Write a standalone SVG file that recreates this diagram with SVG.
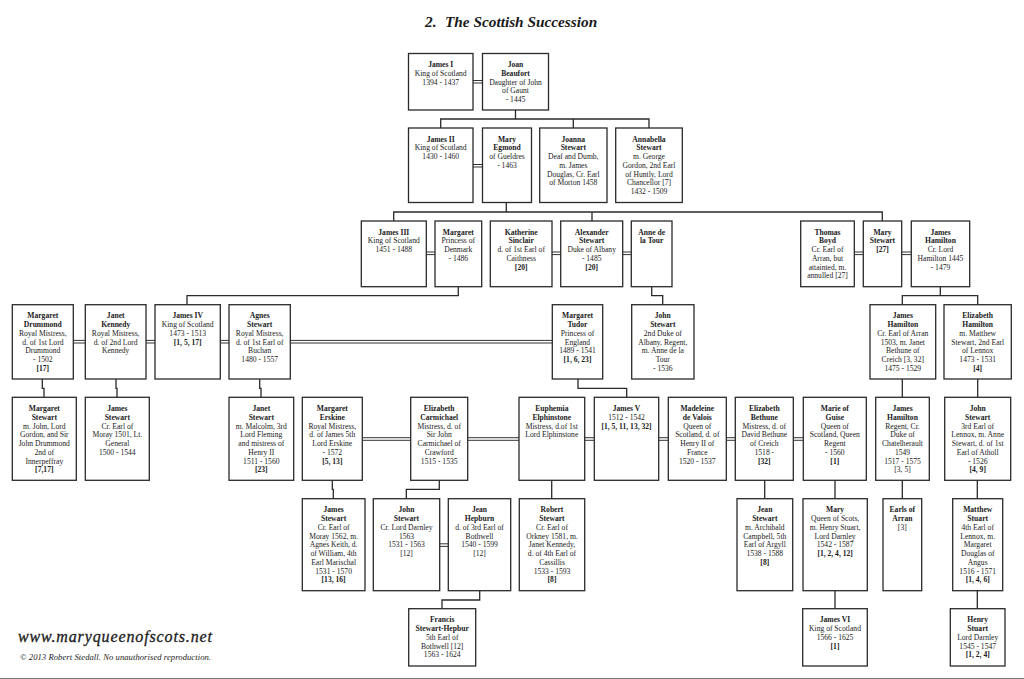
<svg xmlns="http://www.w3.org/2000/svg" width="1024" height="679" viewBox="0 0 1024 679">
<style>
text{font-family:"Liberation Serif","Times New Roman",serif;fill:#1a1a1a}
.n rect{fill:#fff;stroke:#2a2a2a;stroke-width:1.3}
.n text{font-size:7.6px;text-anchor:middle}
.b{font-weight:bold}
#connectors path{fill:none;stroke:#2a2a2a;stroke-width:1.3}
#connectors .d{stroke-width:1;stroke:#333}
</style>
<rect width="1024" height="679" fill="#fff"/>
<text x="425" y="27" font-size="15.3" font-weight="bold" font-style="italic">2.</text>
<text x="445" y="27" font-size="15.3" font-weight="bold" font-style="italic">The Scottish Succession</text>
<g id="connectors">
<path d="M515.5 110V119M440.7 128V119H649V128M573.3 119V128"/>
<path d="M506.3 202.5V212M393.7 221V212H882.3V221M592 212V221"/>
<path d="M458.3 286.7V295.7H187V304.7"/>
<path d="M651.7 286.7V295.7H662.7V304.7"/>
<path d="M940.3 286.7V295.7M902.3 304.7V295.7H977.7V304.7"/>
<path d="M902.3 379V397.3M977.7 379V397.3"/>
<path d="M42.3 379V388.3H44V397.3M116 379V388.3H117V397.3M259.7 379V388.3H261V397.3"/>
<path d="M578 379V388.3H626.7V397.3"/>
<path d="M332.3 480.3V489.3H333.3V498.7M439.3 480.3V489.3H406.3V498.7M551.7 480.3V498.7"/>
<path d="M764.7 480.3V498.7M835 480.3V498.7M902.3 480.3V498.7M977.3 480.3V498.7"/>
<path d="M479.7 590.7V600H442V608.7M835 590.7V608.7M977.3 590.7V608.7"/>
<path class="d" d="M473 80.5H482.5M473 83H482.5M473 164.5H482.5M473 167H482.5"/>
<path class="d" d="M426.3 252H435M426.3 254.6H435M552 252H560.7M552 254.6H560.7M622.7 252H631.3M622.7 254.6H631.3M854.3 252H863.3M854.3 254.6H863.3M901.7 252H911.3M901.7 254.6H911.3"/>
<path class="d" d="M73.3 340.4H85.3M73.3 343H85.3M146 340.4H155M146 343H155M220.3 340.4H229M220.3 343H229M290.3 340.4H552.3M290.3 343H552.3"/>
<path class="d" d="M362.3 437.7H410.7M362.3 440.3H410.7M467.7 437.7H519M467.7 440.3H519M584.7 437.7H594.3M584.7 440.3H594.3M658.7 437.7H668.3M658.7 440.3H668.3M726.3 437.7H735.3M726.3 440.3H735.3M793.3 437.7H803.3M793.3 440.3H803.3"/>
<path class="d" d="M439.7 543.8H448.3M439.7 546.4H448.3"/>
</g>
<g id="james-i" class="n"><rect x="408.5" y="53.5" width="64.5" height="56.5"/><text y="67.2"><tspan class="b" x="440.7">James I</tspan><tspan x="440.7" dy="8.75">King of Scotland</tspan><tspan x="440.7" dy="8.75">1394 - 1437</tspan></text></g>
<g id="joan-beaufort" class="n"><rect x="482.5" y="53.5" width="66" height="56.5"/><text y="67.2"><tspan class="b" x="515.5">Joan</tspan><tspan class="b" x="515.5" dy="8.75">Beaufort</tspan><tspan x="515.5" dy="8.75">Daughter of John</tspan><tspan x="515.5" dy="8.75">of Gaunt</tspan><tspan x="515.5" dy="8.75">- 1445</tspan></text></g>
<g id="james-ii" class="n"><rect x="408.5" y="128" width="64.5" height="74.5"/><text y="141.7"><tspan class="b" x="440.7">James II</tspan><tspan x="440.7" dy="8.75">King of Scotland</tspan><tspan x="440.7" dy="8.75">1430 - 1460</tspan></text></g>
<g id="mary-egmond" class="n"><rect x="482.5" y="128" width="49" height="74.5"/><text y="141.7"><tspan class="b" x="507">Mary</tspan><tspan class="b" x="507" dy="8.75">Egmond</tspan><tspan x="507" dy="8.75">of Gueldres</tspan><tspan x="507" dy="8.75">- 1463</tspan></text></g>
<g id="joanna-stewart" class="n"><rect x="539.7" y="128" width="67.3" height="74.5"/><text y="141.7"><tspan class="b" x="573.3">Joanna</tspan><tspan class="b" x="573.3" dy="8.75">Stewart</tspan><tspan x="573.3" dy="8.75">Deaf and Dumb,</tspan><tspan x="573.3" dy="8.75">m. James</tspan><tspan x="573.3" dy="8.75">Douglas, Cr. Earl</tspan><tspan x="573.3" dy="8.75">of Morton 1458</tspan></text></g>
<g id="annabella-stewart" class="n"><rect x="615.7" y="128" width="66.6" height="74.5"/><text y="141.7"><tspan class="b" x="649">Annabella</tspan><tspan class="b" x="649" dy="8.75">Stewart</tspan><tspan x="649" dy="8.75">m. George</tspan><tspan x="649" dy="8.75">Gordon, 2nd Earl</tspan><tspan x="649" dy="8.75">of Huntly, Lord</tspan><tspan x="649" dy="8.75">Chancellor [7]</tspan><tspan x="649" dy="8.75">1432 - 1509</tspan></text></g>
<g id="james-iii" class="n"><rect x="361.3" y="221" width="65" height="65.7"/><text y="234.7"><tspan class="b" x="393.8">James III</tspan><tspan x="393.8" dy="8.75">King of Scotland</tspan><tspan x="393.8" dy="8.75">1451 - 1488</tspan></text></g>
<g id="margaret-denmark" class="n"><rect x="435" y="221" width="46.7" height="65.7"/><text y="234.7"><tspan class="b" x="458.3">Margaret</tspan><tspan x="458.3" dy="8.75">Princess of</tspan><tspan x="458.3" dy="8.75">Denmark</tspan><tspan x="458.3" dy="8.75">- 1486</tspan></text></g>
<g id="katherine-sinclair" class="n"><rect x="490.3" y="221" width="61.7" height="65.7"/><text y="234.7"><tspan class="b" x="521.2">Katherine</tspan><tspan class="b" x="521.2" dy="8.75">Sinclair</tspan><tspan x="521.2" dy="8.75">d. of 1st Earl of</tspan><tspan x="521.2" dy="8.75">Caithness</tspan><tspan class="b" x="521.2" dy="8.75">[20]</tspan></text></g>
<g id="alexander-stewart" class="n"><rect x="560.7" y="221" width="62" height="65.7"/><text y="234.7"><tspan class="b" x="591.7">Alexander</tspan><tspan class="b" x="591.7" dy="8.75">Stewart</tspan><tspan x="591.7" dy="8.75">Duke of Albany</tspan><tspan x="591.7" dy="8.75">- 1485</tspan><tspan class="b" x="591.7" dy="8.75">[20]</tspan></text></g>
<g id="anne-de-la-tour" class="n"><rect x="631.3" y="221" width="40.7" height="65.7"/><text y="234.7"><tspan class="b" x="651.7">Anne de</tspan><tspan class="b" x="651.7" dy="8.75">la Tour</tspan></text></g>
<g id="thomas-boyd" class="n"><rect x="800.7" y="221" width="53.6" height="65.7"/><text y="234.7"><tspan class="b" x="827.5">Thomas</tspan><tspan class="b" x="827.5" dy="8.75">Boyd</tspan><tspan x="827.5" dy="8.75">Cr. Earl of</tspan><tspan x="827.5" dy="8.75">Arran, but</tspan><tspan x="827.5" dy="8.75">attainted, m.</tspan><tspan x="827.5" dy="8.75">annulled [27]</tspan></text></g>
<g id="mary-stewart" class="n"><rect x="863.3" y="221" width="38.4" height="65.7"/><text y="234.7"><tspan class="b" x="882.5">Mary</tspan><tspan class="b" x="882.5" dy="8.75">Stewart</tspan><tspan class="b" x="882.5" dy="8.75">[27]</tspan></text></g>
<g id="james-hamilton-lord" class="n"><rect x="911.3" y="221" width="58.4" height="65.7"/><text y="234.7"><tspan class="b" x="940.5">James</tspan><tspan class="b" x="940.5" dy="8.75">Hamilton</tspan><tspan x="940.5" dy="8.75">Cr. Lord</tspan><tspan x="940.5" dy="8.75">Hamilton 1445</tspan><tspan x="940.5" dy="8.75">- 1479</tspan></text></g>
<g id="margaret-drummond" class="n"><rect x="12.3" y="304.7" width="61" height="74.3"/><text y="318.4"><tspan class="b" x="42.8">Margaret</tspan><tspan class="b" x="42.8" dy="8.75">Drummond</tspan><tspan x="42.8" dy="8.75">Royal Mistress,</tspan><tspan x="42.8" dy="8.75">d. of 1st Lord</tspan><tspan x="42.8" dy="8.75">Drummond</tspan><tspan x="42.8" dy="8.75">- 1502</tspan><tspan class="b" x="42.8" dy="8.75">[17]</tspan></text></g>
<g id="janet-kennedy" class="n"><rect x="85.3" y="304.7" width="60.7" height="74.3"/><text y="318.4"><tspan class="b" x="115.7">Janet</tspan><tspan class="b" x="115.7" dy="8.75">Kennedy</tspan><tspan x="115.7" dy="8.75">Royal Mistress,</tspan><tspan x="115.7" dy="8.75">d. of 2nd Lord</tspan><tspan x="115.7" dy="8.75">Kennedy</tspan></text></g>
<g id="james-iv" class="n"><rect x="155" y="304.7" width="65.3" height="74.3"/><text y="318.4"><tspan class="b" x="187.7">James IV</tspan><tspan x="187.7" dy="8.75">King of Scotland</tspan><tspan x="187.7" dy="8.75">1473 - 1513</tspan><tspan class="b" x="187.7" dy="8.75">[1, 5, 17]</tspan></text></g>
<g id="agnes-stewart" class="n"><rect x="229" y="304.7" width="61.3" height="74.3"/><text y="318.4"><tspan class="b" x="259.7">Agnes</tspan><tspan class="b" x="259.7" dy="8.75">Stewart</tspan><tspan x="259.7" dy="8.75">Royal Mistress,</tspan><tspan x="259.7" dy="8.75">d. of 1st Earl of</tspan><tspan x="259.7" dy="8.75">Buchan</tspan><tspan x="259.7" dy="8.75">1480 - 1557</tspan></text></g>
<g id="margaret-tudor" class="n"><rect x="552.3" y="304.7" width="50.4" height="74.3"/><text y="318.4"><tspan class="b" x="577.5">Margaret</tspan><tspan class="b" x="577.5" dy="8.75">Tudor</tspan><tspan x="577.5" dy="8.75">Princess of</tspan><tspan x="577.5" dy="8.75">England</tspan><tspan x="577.5" dy="8.75">1489 - 1541</tspan><tspan class="b" x="577.5" dy="8.75">[1, 6, 23]</tspan></text></g>
<g id="john-stewart-albany" class="n"><rect x="631.7" y="304.7" width="62.3" height="74.3"/><text y="318.4"><tspan class="b" x="662.8">John</tspan><tspan class="b" x="662.8" dy="8.75">Stewart</tspan><tspan x="662.8" dy="8.75">2nd Duke of</tspan><tspan x="662.8" dy="8.75">Albany, Regent,</tspan><tspan x="662.8" dy="8.75">m. Anne de la</tspan><tspan x="662.8" dy="8.75">Tour</tspan><tspan x="662.8" dy="8.75">- 1536</tspan></text></g>
<g id="james-hamilton-arran" class="n"><rect x="870" y="304.7" width="65.7" height="74.3"/><text y="318.4"><tspan class="b" x="902.8">James</tspan><tspan class="b" x="902.8" dy="8.75">Hamilton</tspan><tspan x="902.8" dy="8.75">Cr. Earl of Arran</tspan><tspan x="902.8" dy="8.75">1503, m. Janet</tspan><tspan x="902.8" dy="8.75">Bethune of</tspan><tspan x="902.8" dy="8.75">Creich [3, 32]</tspan><tspan x="902.8" dy="8.75">1475 - 1529</tspan></text></g>
<g id="elizabeth-hamilton" class="n"><rect x="944" y="304.7" width="67.3" height="74.3"/><text y="318.4"><tspan class="b" x="977.7">Elizabeth</tspan><tspan class="b" x="977.7" dy="8.75">Hamilton</tspan><tspan x="977.7" dy="8.75">m. Matthew</tspan><tspan x="977.7" dy="8.75">Stewart, 2nd Earl</tspan><tspan x="977.7" dy="8.75">of Lennox</tspan><tspan x="977.7" dy="8.75">1473 - 1531</tspan><tspan class="b" x="977.7" dy="8.75">[4]</tspan></text></g>
<g id="margaret-stewart" class="n"><rect x="12.3" y="397.3" width="64" height="83"/><text y="411"><tspan class="b" x="44.3">Margaret</tspan><tspan class="b" x="44.3" dy="8.75">Stewart</tspan><tspan x="44.3" dy="8.75">m. John, Lord</tspan><tspan x="44.3" dy="8.75">Gordon, and Sir</tspan><tspan x="44.3" dy="8.75">John Drummond</tspan><tspan x="44.3" dy="8.75">2nd of</tspan><tspan x="44.3" dy="8.75">Innerpeffray</tspan><tspan class="b" x="44.3" dy="8.75">[7,17]</tspan></text></g>
<g id="james-stewart-moray-1501" class="n"><rect x="85.3" y="397.3" width="64" height="83"/><text y="411"><tspan class="b" x="117.3">James</tspan><tspan class="b" x="117.3" dy="8.75">Stewart</tspan><tspan x="117.3" dy="8.75">Cr. Earl of</tspan><tspan x="117.3" dy="8.75">Moray 1501, Lt.</tspan><tspan x="117.3" dy="8.75">General</tspan><tspan x="117.3" dy="8.75">1500 - 1544</tspan></text></g>
<g id="janet-stewart" class="n"><rect x="229" y="397.3" width="64.7" height="83"/><text y="411"><tspan class="b" x="261.3">Janet</tspan><tspan class="b" x="261.3" dy="8.75">Stewart</tspan><tspan x="261.3" dy="8.75">m. Malcolm, 3rd</tspan><tspan x="261.3" dy="8.75">Lord Fleming</tspan><tspan x="261.3" dy="8.75">and mistress of</tspan><tspan x="261.3" dy="8.75">Henry II</tspan><tspan x="261.3" dy="8.75">1511 - 1560</tspan><tspan class="b" x="261.3" dy="8.75">[23]</tspan></text></g>
<g id="margaret-erskine" class="n"><rect x="302.3" y="397.3" width="60" height="83"/><text y="411"><tspan class="b" x="332.3">Margaret</tspan><tspan class="b" x="332.3" dy="8.75">Erskine</tspan><tspan x="332.3" dy="8.75">Royal Mistress,</tspan><tspan x="332.3" dy="8.75">d. of James 5th</tspan><tspan x="332.3" dy="8.75">Lord Erskine</tspan><tspan x="332.3" dy="8.75">- 1572</tspan><tspan class="b" x="332.3" dy="8.75">[5, 13]</tspan></text></g>
<g id="elizabeth-carmichael" class="n"><rect x="410.7" y="397.3" width="57" height="83"/><text y="411"><tspan class="b" x="439.2">Elizabeth</tspan><tspan class="b" x="439.2" dy="8.75">Carmichael</tspan><tspan x="439.2" dy="8.75">Mistress, d. of</tspan><tspan x="439.2" dy="8.75">Sir John</tspan><tspan x="439.2" dy="8.75">Carmichael of</tspan><tspan x="439.2" dy="8.75">Crawford</tspan><tspan x="439.2" dy="8.75">1515 - 1535</tspan></text></g>
<g id="euphemia-elphinstone" class="n"><rect x="519" y="397.3" width="65.7" height="83"/><text y="411"><tspan class="b" x="551.8">Euphemia</tspan><tspan class="b" x="551.8" dy="8.75">Elphinstone</tspan><tspan x="551.8" dy="8.75">Mistress, d.of 1st</tspan><tspan x="551.8" dy="8.75">Lord Elphinstone</tspan></text></g>
<g id="james-v" class="n"><rect x="594.3" y="397.3" width="64.4" height="83"/><text y="411"><tspan class="b" x="626.5">James V</tspan><tspan x="626.5" dy="8.75">1512 - 1542</tspan><tspan class="b" x="626.5" dy="8.75">[1, 5, 11, 13, 32]</tspan></text></g>
<g id="madeleine-de-valois" class="n"><rect x="668.3" y="397.3" width="58" height="83"/><text y="411"><tspan class="b" x="697.3">Madeleine</tspan><tspan class="b" x="697.3" dy="8.75">de Valois</tspan><tspan x="697.3" dy="8.75">Queen of</tspan><tspan x="697.3" dy="8.75">Scotland, d. of</tspan><tspan x="697.3" dy="8.75">Henry II of</tspan><tspan x="697.3" dy="8.75">France</tspan><tspan x="697.3" dy="8.75">1520 - 1537</tspan></text></g>
<g id="elizabeth-bethune" class="n"><rect x="735.3" y="397.3" width="58" height="83"/><text y="411"><tspan class="b" x="764.3">Elizabeth</tspan><tspan class="b" x="764.3" dy="8.75">Bethune</tspan><tspan x="764.3" dy="8.75">Mistress, d. of</tspan><tspan x="764.3" dy="8.75">David Bethune</tspan><tspan x="764.3" dy="8.75">of Creich</tspan><tspan x="764.3" dy="8.75">1518 -</tspan><tspan class="b" x="764.3" dy="8.75">[32]</tspan></text></g>
<g id="marie-of-guise" class="n"><rect x="803.3" y="397.3" width="63" height="83"/><text y="411"><tspan class="b" x="834.8">Marie of</tspan><tspan class="b" x="834.8" dy="8.75">Guise</tspan><tspan x="834.8" dy="8.75">Queen of</tspan><tspan x="834.8" dy="8.75">Scotland, Queen</tspan><tspan x="834.8" dy="8.75">Regent</tspan><tspan x="834.8" dy="8.75">- 1560</tspan><tspan class="b" x="834.8" dy="8.75">[1]</tspan></text></g>
<g id="james-hamilton-regent" class="n"><rect x="875.7" y="397.3" width="53.6" height="83"/><text y="411"><tspan class="b" x="902.5">James</tspan><tspan class="b" x="902.5" dy="8.75">Hamilton</tspan><tspan x="902.5" dy="8.75">Regent, Cr.</tspan><tspan x="902.5" dy="8.75">Duke of</tspan><tspan x="902.5" dy="8.75">Chatelherault</tspan><tspan x="902.5" dy="8.75">1549</tspan><tspan x="902.5" dy="8.75">1517 - 1575</tspan><tspan x="902.5" dy="8.75">[3, 5]</tspan></text></g>
<g id="john-stewart-lennox" class="n"><rect x="944.7" y="397.3" width="66" height="83"/><text y="411"><tspan class="b" x="977.7">John</tspan><tspan class="b" x="977.7" dy="8.75">Stewart</tspan><tspan x="977.7" dy="8.75">3rd Earl of</tspan><tspan x="977.7" dy="8.75">Lennox, m. Anne</tspan><tspan x="977.7" dy="8.75">Stewart, d. of 1st</tspan><tspan x="977.7" dy="8.75">Earl of Atholl</tspan><tspan x="977.7" dy="8.75">- 1526</tspan><tspan class="b" x="977.7" dy="8.75">[4, 9]</tspan></text></g>
<g id="james-stewart-moray-1562" class="n"><rect x="302.3" y="498.7" width="62.7" height="92"/><text y="512.4"><tspan class="b" x="333.6">James</tspan><tspan class="b" x="333.6" dy="8.75">Stewart</tspan><tspan x="333.6" dy="8.75">Cr. Earl of</tspan><tspan x="333.6" dy="8.75">Moray 1562, m.</tspan><tspan x="333.6" dy="8.75">Agnes Keith, d.</tspan><tspan x="333.6" dy="8.75">of William, 4th</tspan><tspan x="333.6" dy="8.75">Earl Marischal</tspan><tspan x="333.6" dy="8.75">1531 - 1570</tspan><tspan class="b" x="333.6" dy="8.75">[13, 16]</tspan></text></g>
<g id="john-stewart-darnley" class="n"><rect x="373.3" y="498.7" width="66.4" height="92"/><text y="512.4"><tspan class="b" x="406.5">John</tspan><tspan class="b" x="406.5" dy="8.75">Stewart</tspan><tspan x="406.5" dy="8.75">Cr. Lord Darnley</tspan><tspan x="406.5" dy="8.75">1563</tspan><tspan x="406.5" dy="8.75">1531 - 1563</tspan><tspan x="406.5" dy="8.75">[12]</tspan></text></g>
<g id="jean-hepburn" class="n"><rect x="448.3" y="498.7" width="62.4" height="92"/><text y="512.4"><tspan class="b" x="479.5">Jean</tspan><tspan class="b" x="479.5" dy="8.75">Hepburn</tspan><tspan x="479.5" dy="8.75">d. of 3rd Earl of</tspan><tspan x="479.5" dy="8.75">Bothwell</tspan><tspan x="479.5" dy="8.75">1540 - 1599</tspan><tspan x="479.5" dy="8.75">[12]</tspan></text></g>
<g id="robert-stewart" class="n"><rect x="519.3" y="498.7" width="65.4" height="92"/><text y="512.4"><tspan class="b" x="552">Robert</tspan><tspan class="b" x="552" dy="8.75">Stewart</tspan><tspan x="552" dy="8.75">Cr. Earl of</tspan><tspan x="552" dy="8.75">Orkney 1581, m.</tspan><tspan x="552" dy="8.75">Janet Kennedy,</tspan><tspan x="552" dy="8.75">d. of 4th Earl of</tspan><tspan x="552" dy="8.75">Cassillis</tspan><tspan x="552" dy="8.75">1533 - 1593</tspan><tspan class="b" x="552" dy="8.75">[8]</tspan></text></g>
<g id="jean-stewart" class="n"><rect x="737" y="498.7" width="55.7" height="92"/><text y="512.4"><tspan class="b" x="764.8">Jean</tspan><tspan class="b" x="764.8" dy="8.75">Stewart</tspan><tspan x="764.8" dy="8.75">m. Archibald</tspan><tspan x="764.8" dy="8.75">Campbell, 5th</tspan><tspan x="764.8" dy="8.75">Earl of Argyll</tspan><tspan x="764.8" dy="8.75">1538 - 1588</tspan><tspan class="b" x="764.8" dy="8.75">[8]</tspan></text></g>
<g id="mary-queen-of-scots" class="n"><rect x="803" y="498.7" width="64.3" height="92"/><text y="512.4"><tspan class="b" x="835.1">Mary</tspan><tspan x="835.1" dy="8.75">Queen of Scots,</tspan><tspan x="835.1" dy="8.75">m. Henry Stuart,</tspan><tspan x="835.1" dy="8.75">Lord Darnley</tspan><tspan x="835.1" dy="8.75">1542 - 1587</tspan><tspan class="b" x="835.1" dy="8.75">[1, 2, 4, 12]</tspan></text></g>
<g id="earls-of-arran" class="n"><rect x="883" y="498.7" width="38.7" height="92"/><text y="512.4"><tspan class="b" x="902.3">Earls of</tspan><tspan class="b" x="902.3" dy="8.75">Arran</tspan><tspan x="902.3" dy="8.75">[3]</tspan></text></g>
<g id="matthew-stuart" class="n"><rect x="952.7" y="498.7" width="50" height="92"/><text y="512.4"><tspan class="b" x="977.7">Matthew</tspan><tspan class="b" x="977.7" dy="8.75">Stuart</tspan><tspan x="977.7" dy="8.75">4th Earl of</tspan><tspan x="977.7" dy="8.75">Lennox, m.</tspan><tspan x="977.7" dy="8.75">Margaret</tspan><tspan x="977.7" dy="8.75">Douglas of</tspan><tspan x="977.7" dy="8.75">Angus</tspan><tspan x="977.7" dy="8.75">1516 - 1571</tspan><tspan class="b" x="977.7" dy="8.75">[1, 4, 6]</tspan></text></g>
<g id="francis-stewart-hepburn" class="n"><rect x="408.7" y="608.7" width="67" height="57.3"/><text y="622.4"><tspan class="b" x="442.2">Francis</tspan><tspan class="b" x="442.2" dy="8.75">Stewart-Hepbur</tspan><tspan x="442.2" dy="8.75">5th Earl of</tspan><tspan x="442.2" dy="8.75">Bothwell [12]</tspan><tspan x="442.2" dy="8.75">1563 - 1624</tspan></text></g>
<g id="james-vi" class="n"><rect x="802.7" y="608.7" width="64.6" height="57.3"/><text y="622.4"><tspan class="b" x="835">James VI</tspan><tspan x="835" dy="8.75">King of Scotland</tspan><tspan x="835" dy="8.75">1566 - 1625</tspan><tspan class="b" x="835" dy="8.75">[1]</tspan></text></g>
<g id="henry-stuart" class="n"><rect x="950.3" y="608.7" width="54.7" height="57.3"/><text y="622.4"><tspan class="b" x="977.7">Henry</tspan><tspan class="b" x="977.7" dy="8.75">Stuart</tspan><tspan x="977.7" dy="8.75">Lord Darnley</tspan><tspan x="977.7" dy="8.75">1545 - 1547</tspan><tspan class="b" x="977.7" dy="8.75">[1, 2, 4]</tspan></text></g>
<text x="18" y="642" font-size="16" font-style="italic" stroke="#1a1a1a" stroke-width=".3" textLength="194" lengthAdjust="spacing">www.maryqueenofscots.net</text>
<text x="20" y="660" font-size="8.6" font-style="italic" fill="#444" textLength="191">© 2013 Robert Stedall. No unauthorised reproduction.</text>
<rect y="678" width="1024" height="1" fill="#777"/>
</svg>
